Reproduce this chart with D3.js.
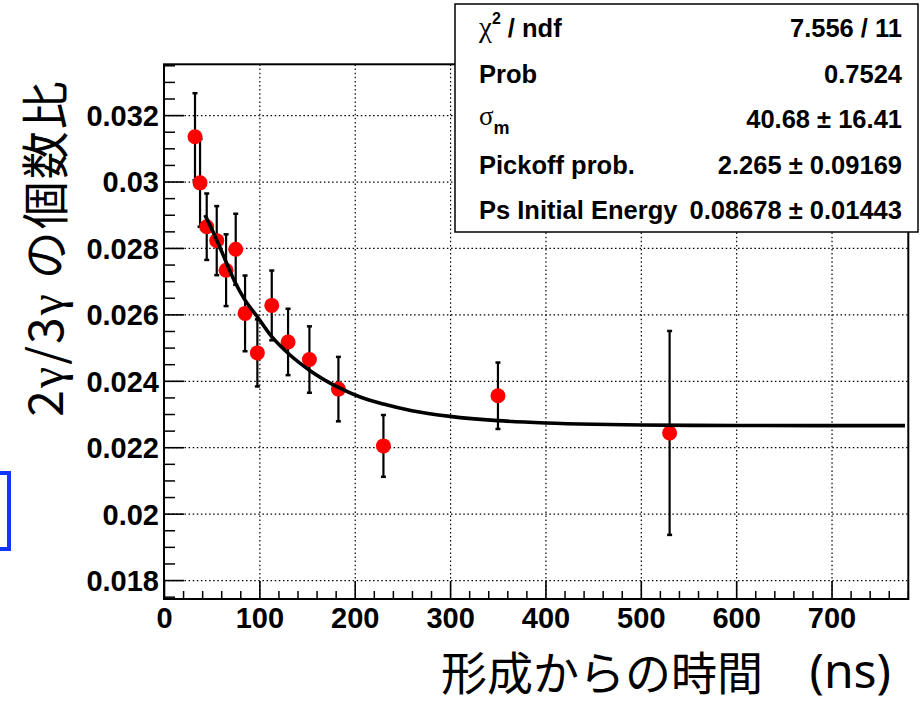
<!DOCTYPE html>
<html>
<head>
<meta charset="utf-8">
<script src="https://cdn.jsdelivr.net/npm/d3@7"></script>
<style>
  html, body { margin: 0; padding: 0; background: #fff; }
  svg { display: block; }
</style>
</head>
<body>
<svg id="chart" width="924" height="704"></svg>
<script>
// ---------------- data ----------------
const times  = [32.5, 37.8, 44.8, 55.3, 65.1, 75.2, 85.0, 97.9, 113.0, 130.1, 152.5, 182.9, 230.1, 350.2, 530.2];
const ratios = [0.03135, 0.02996, 0.02864, 0.02822, 0.02733, 0.02796, 0.02603, 0.02484, 0.02627, 0.02517, 0.02464, 0.02375, 0.02204, 0.02355, 0.02243];
const errors = [0.00131, 0.00132, 0.00100, 0.00104, 0.00108, 0.00107, 0.00114, 0.00101, 0.00105, 0.00100, 0.00100, 0.00097, 0.00093, 0.00100, 0.00307];

const fitX = [43.0, 55.3, 65.1, 75.2, 85.0, 97.9, 113.0, 130.1, 152.5, 182.9, 205, 230.1, 260, 300, 350, 400, 450, 500, 600, 777];
const fitY = [0.02899, 0.02824, 0.02758, 0.02693, 0.02643, 0.02593, 0.02533, 0.02483, 0.02432, 0.02380, 0.02352, 0.02330, 0.02310, 0.02293, 0.02280, 0.02273, 0.02269, 0.02267, 0.022655, 0.02265];

const xTicks = [0, 100, 200, 300, 400, 500, 600, 700];
const xTickLabels = ["0", "100", "200", "300", "400", "500", "600", "700"];
const yTicks = [0.018, 0.020, 0.022, 0.024, 0.026, 0.028, 0.030, 0.032];
const yTickLabels = ["0.018", "0.02", "0.022", "0.024", "0.026", "0.028", "0.03", "0.032"];

const statNames  = ["chi2 / ndf", "Prob", "sigma_m", "Pickoff prob.", "Ps Initial Energy"];
const statValues = ["7.556 / 11", "0.7524", "40.68 \u00b1 16.41", "2.265 \u00b1 0.09169", "0.08678 \u00b1 0.01443"];

const xTitle = "形成からの時間";
const xTitleUnit = "(ns)";
const yTitleA = ["2", "γ", "/3", "γ"];
const yTitleB = "の個数比";

// ---------------- layout ----------------
const svg = d3.select("#chart");
const L = 164, R = 908.3, T = 64.3, B = 599;
const x = d3.scaleLinear().domain([0, 780.5]).range([L, R]);
const y = d3.scaleLinear().domain([0.01743, 0.03353]).range([B, T]);

const tickFont = "'Liberation Sans', Arial, Helvetica, sans-serif";
const cjkFont = "'Noto Sans CJK JP', 'Noto Sans', sans-serif";

// grid
const gridG = svg.append("g");
gridG.append("g").attr("transform", `translate(0,${B})`)
  .call(d3.axisBottom(x).tickValues(xTicks.slice(1)).tickSize(-(B - T)).tickFormat(""))
  .call(g => g.select(".domain").remove())
  .call(g => g.selectAll("line").attr("stroke", "#000").attr("stroke-width", 1.2).attr("stroke-dasharray", "1.5,2.6"));
gridG.append("g").attr("transform", `translate(${L},0)`)
  .call(d3.axisLeft(y).tickValues(yTicks).tickSize(-(R - L)).tickFormat(""))
  .call(g => g.select(".domain").remove())
  .call(g => g.selectAll("line").attr("stroke", "#000").attr("stroke-width", 1.2).attr("stroke-dasharray", "1.5,2.6"));

// minor ticks
const xMinor = d3.range(0, 781, 20).filter(v => v % 100 !== 0);
const yMinorVals = d3.range(0, 33).map(i => +(0.0175 + i * 0.0005).toFixed(4)).filter(v => v <= 0.0335 && !yTicks.some(t => Math.abs(t - v) < 1e-7));

svg.append("g").attr("transform", `translate(0,${B})`)
  .call(d3.axisBottom(x).tickValues(xMinor).tickSize(-8).tickFormat(""))
  .call(g => g.select(".domain").remove())
  .call(g => g.selectAll("line").attr("stroke", "#000").attr("stroke-width", 1.5));
svg.append("g").attr("transform", `translate(${L},0)`)
  .call(d3.axisLeft(y).tickValues(yMinorVals).tickSize(-11).tickFormat(""))
  .call(g => g.select(".domain").remove())
  .call(g => g.selectAll("line").attr("stroke", "#000").attr("stroke-width", 1.5));

// major ticks + labels
svg.append("g").attr("transform", `translate(0,${B})`)
  .call(d3.axisBottom(x).tickValues(xTicks).tickSize(-18).tickPadding(8).tickFormat((d, i) => xTickLabels[i]))
  .call(g => g.select(".domain").remove())
  .call(g => g.selectAll("line").attr("stroke", "#000").attr("stroke-width", 1.6))
  .call(g => g.selectAll("text").attr("fill", "#000").attr("font-family", tickFont).attr("font-weight", "bold").attr("font-size", 29));
svg.append("g").attr("transform", `translate(${L},0)`)
  .call(d3.axisLeft(y).tickValues(yTicks).tickSize(-20).tickPadding(5).tickFormat((d, i) => yTickLabels[i]))
  .call(g => g.select(".domain").remove())
  .call(g => g.selectAll("line").attr("stroke", "#000").attr("stroke-width", 1.6))
  .call(g => g.selectAll("text").attr("fill", "#000").attr("font-family", tickFont).attr("font-weight", "bold").attr("font-size", 29).attr("dy", "0.36em"));

// frame
svg.append("rect").attr("x", L).attr("y", T).attr("width", R - L).attr("height", B - T)
  .attr("fill", "none").attr("stroke", "#000").attr("stroke-width", 2);

// data
const pts = times.map((t, i) => ({ t, v: ratios[i], e: errors[i] }));
const eb = svg.append("g").attr("stroke", "#000").attr("stroke-width", 2.2);
eb.selectAll("line.bar").data(pts).join("line").attr("class", "bar")
  .attr("x1", d => x(d.t)).attr("x2", d => x(d.t))
  .attr("y1", d => y(d.v - d.e)).attr("y2", d => y(d.v + d.e));
eb.selectAll("line.capT").data(pts).join("line").attr("class", "capT")
  .attr("x1", d => x(d.t) - 2.5).attr("x2", d => x(d.t) + 2.5)
  .attr("y1", d => y(d.v + d.e)).attr("y2", d => y(d.v + d.e)).attr("stroke-width", 2.5);
eb.selectAll("line.capB").data(pts).join("line").attr("class", "capB")
  .attr("x1", d => x(d.t) - 2.5).attr("x2", d => x(d.t) + 2.5)
  .attr("y1", d => y(d.v - d.e)).attr("y2", d => y(d.v - d.e)).attr("stroke-width", 2.5);

svg.append("g").selectAll("circle").data(pts).join("circle")
  .attr("cx", d => x(d.t)).attr("cy", d => y(d.v)).attr("r", 7.5).attr("fill", "#ff0000");

// fit curve
const fitPts = fitX.map((t, i) => [t, fitY[i]]);
svg.append("path").datum(fitPts)
  .attr("d", d3.line().x(d => x(d[0])).y(d => y(d[1])).curve(d3.curveMonotoneX))
  .attr("fill", "none").attr("stroke", "#000").attr("stroke-width", 3.6);

// stats box
const sb = svg.append("g");
sb.append("rect").attr("x", 455).attr("y", 4).attr("width", 463).attr("height", 228)
  .attr("fill", "#fff").attr("stroke", "#000").attr("stroke-width", 1.5);
const rowY = [37, 82.5, 128, 173.5, 219];
const sFont = tickFont;
statNames.forEach((n, i) => {
  const t = sb.append("text").attr("x", 479).attr("y", rowY[i]).attr("font-family", sFont)
    .attr("font-weight", "bold").attr("font-size", 25.5).attr("fill", "#000");
  if (i === 0) {
    t.append("tspan").attr("font-family", "'Liberation Serif', serif").attr("font-weight", "normal").attr("font-size", 29).text("χ");
    t.append("tspan").attr("font-size", 16).attr("dy", -13).text("2");
    t.append("tspan").attr("dy", 13).text(" / ndf");
  } else if (i === 2) {
    t.append("tspan").attr("font-family", "'Liberation Serif', serif").attr("font-weight", "normal").attr("font-size", 27).attr("dy", -3).text("σ");
    t.append("tspan").attr("font-size", 18).attr("dy", 9).text("m");
  } else {
    t.text(n);
  }
  sb.append("text").attr("x", 902).attr("y", rowY[i]).attr("text-anchor", "end").attr("font-family", sFont)
    .attr("font-weight", "bold").attr("font-size", 25.5).attr("fill", "#000").text(statValues[i]);
});

// y title
const yt = svg.append("text").attr("transform", "translate(63,248) rotate(-90)")
  .attr("text-anchor", "middle").attr("font-family", cjkFont).attr("font-size", 48)
  .attr("letter-spacing", 2).attr("fill", "#000");
yTitleA.forEach(s => {
  const sp = yt.append("tspan").text(s);
  if (s === "γ") sp.attr("font-family", "'Liberation Serif', serif");
});
yt.append("tspan").text(" " + yTitleB);

// x title
svg.append("text").attr("x", 441).attr("y", 690).attr("text-anchor", "start")
  .attr("font-family", cjkFont).attr("font-size", 46).attr("fill", "#000").text(xTitle);
svg.append("text").attr("x", 891).attr("y", 688).attr("text-anchor", "end")
  .attr("font-family", "'Noto Sans', sans-serif").attr("font-size", 48)
  .attr("fill", "#000").text(xTitleUnit);

// blue box at left edge
svg.append("rect").attr("x", -10).attr("y", 473).attr("width", 19).attr("height", 76)
  .attr("fill", "none").attr("stroke", "#0f35ff").attr("stroke-width", 4);
</script>
</body>
</html>
